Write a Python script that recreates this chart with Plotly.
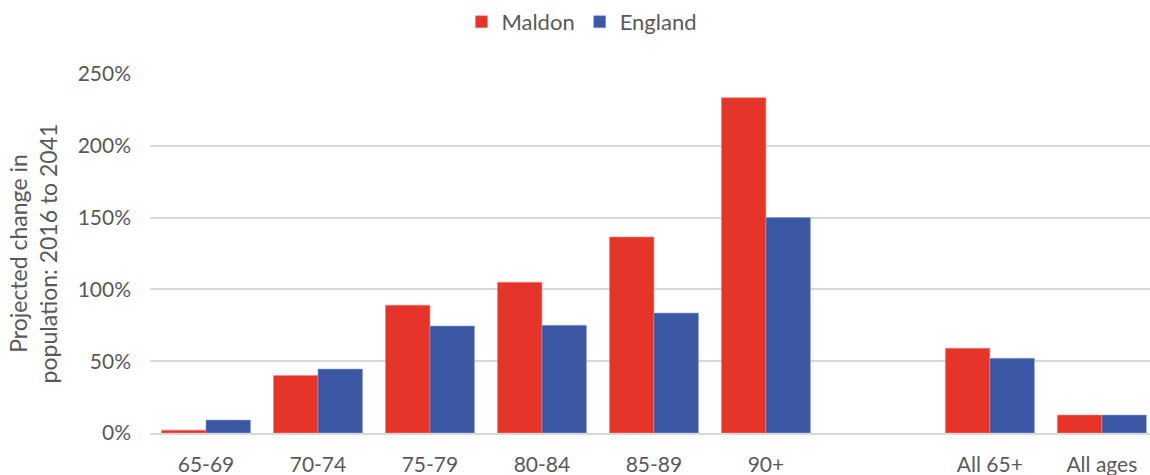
import plotly.graph_objects as go

categories = ["65-69", "70-74", "75-79", "80-84", "85-89", "90+", "", "All 65+", "All ages"]
maldon = [2, 40, 89, 105, 136.5, 233.5, None, 59, 12.5]
england = [9, 44.5, 74.5, 75, 83.5, 150, None, 52, 12.5]
y_ticks = [0, 50, 100, 150, 200, 250]
y_tick_labels = ["0%", "50%", "100%", "150%", "200%", "250%"]

xpos = list(range(len(categories)))
font_family = "Lato, 'Open Sans', sans-serif"

fig = go.Figure()
fig.add_trace(go.Bar(name="Maldon", x=xpos, y=maldon, marker=dict(color="#E5352A", line=dict(width=0.6, color="#F0887F"))))
fig.add_trace(go.Bar(name="England", x=xpos, y=england, marker=dict(color="#3C58A4", line=dict(width=0.6, color="#8A9CD8"))))

fig.update_layout(
    width=1150, height=475,
    margin=dict(l=150, r=0, t=74, b=42, autoexpand=False),
    barmode="group", bargap=0.205, bargroupgap=0,
    plot_bgcolor="white", paper_bgcolor="white",
    font=dict(family=font_family, size=21, color="#595959"),
    legend=dict(orientation="h", xref="container", x=0.506, xanchor="center", yref="paper", y=1.145, yanchor="middle",
                font=dict(size=22, color="#595959"), traceorder="normal", itemwidth=30),
    xaxis=dict(tickmode="array", tickvals=xpos, ticktext=categories, range=[-0.5, 8.43],
               showgrid=False, showline=True, linecolor="#D9D9D9", linewidth=2, ticks="",
               ticklabelstandoff=12, tickfont=dict(size=21), automargin=False),
    yaxis=dict(range=[0, 250], tickmode="array", tickvals=y_ticks, ticktext=y_tick_labels,
               showgrid=True, gridcolor="#D9D9D9", gridwidth=1.5, zeroline=False, ticks="",
               ticklabelstandoff=18, tickfont=dict(size=21), automargin=False,
               title=dict(text="Projected change in<br>population: 2016 to 2041", font=dict(size=23), standoff=13)),
)

fig.write_html("out.html", config={"displayModeBar": False},
               post_script="document.body.style.margin='0';document.body.style.overflow='hidden';")
